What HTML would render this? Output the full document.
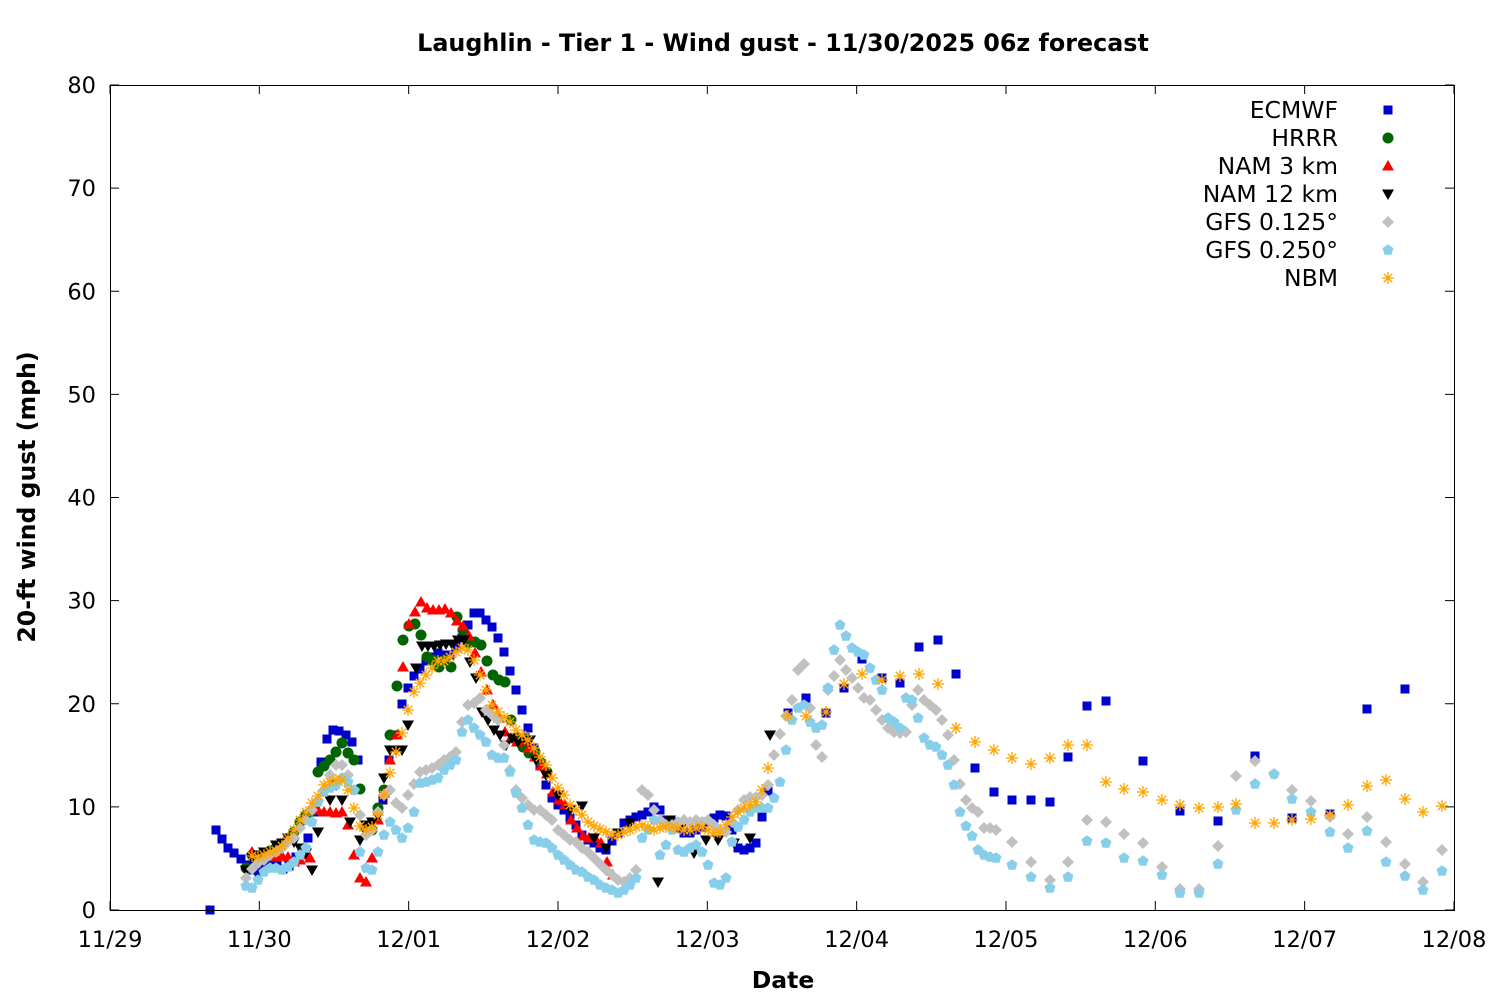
<!DOCTYPE html>
<html><head><meta charset="utf-8"><style>
html,body{margin:0;padding:0;background:#fff;}
svg text{font-family:"DejaVu Sans","Liberation Sans",sans-serif;}
</style></head><body>
<svg id="s" width="1500" height="1000" xmlns="http://www.w3.org/2000/svg">
<rect width="1500" height="1000" fill="#fff"/>
<text x="783" y="51" text-anchor="middle" font-size="23.8" font-weight="bold">Laughlin - Tier 1 - Wind gust - 11/30/2025 06z forecast</text>
<text x="783" y="988" text-anchor="middle" font-size="23.5" font-weight="bold">Date</text>
<text transform="translate(35,497) rotate(-90)" text-anchor="middle" font-size="23.6" font-weight="bold">20-ft wind gust (mph)</text>
<g id="ax"></g>
<g id="pts"></g>
<rect x="110.5" y="85.5" width="1344" height="825" fill="none" stroke="#000" stroke-width="1"/>
<g id="leg" font-size="23.5"></g>
</svg>
<script>
var NS="http://www.w3.org/2000/svg";
function el(p,t,a,txt){var e=document.createElementNS(NS,t);for(var k in a)e.setAttribute(k,a[k]);if(txt!==undefined)e.textContent=txt;p.appendChild(e);return e;}
var ax=document.getElementById('ax');
for(var i=0;i<=8;i++){var y=910-i*103.125;
 el(ax,'line',{x1:110,y1:y,x2:119,y2:y,stroke:'#000'});el(ax,'line',{x1:1454,y1:y,x2:1445,y2:y,stroke:'#000'});
 el(ax,'text',{x:96,y:y+8,'text-anchor':'end','font-size':'22.5'},String(i*10));}
var dl=['11/29','11/30','12/01','12/02','12/03','12/04','12/05','12/06','12/07','12/08'];
for(var i=0;i<=9;i++){var x=110+i*149.33;
 el(ax,'line',{x1:x,y1:910,x2:x,y2:901,stroke:'#000'});el(ax,'line',{x1:x,y1:85,x2:x,y2:94,stroke:'#000'});
 el(ax,'text',{x:x,y:947,'text-anchor':'middle','font-size':'22.5'},dl[i]);}
function P(s){var a=s.split(/[;\s]+/).filter(Boolean);return a.map(function(t){var q=t.split(',');return [+q[0],+q[1]];});}
var g=document.getElementById('pts');
function mk(p,type,x,y){
 if(type=='sq')el(p,'rect',{x:x-4.5,y:y-4.5,width:9,height:9,fill:'#0000cc'});
 else if(type=='ci')el(p,'circle',{cx:x,cy:y,r:5.5,fill:'#006400'});
 else if(type=='tu')el(p,'polygon',{points:(x-6)+','+(y+4.5)+' '+(x+6)+','+(y+4.5)+' '+x+','+(y-6),fill:'#ff0000'});
 else if(type=='td')el(p,'polygon',{points:(x-6)+','+(y-4.5)+' '+(x+6)+','+(y-4.5)+' '+x+','+(y+6),fill:'#000'});
 else if(type=='di')el(p,'polygon',{points:x+','+(y-6)+' '+(x+6)+','+y+' '+x+','+(y+6)+' '+(x-6)+','+y,fill:'#c0c0c0'});
 else if(type=='pe'){var s='';for(var k=0;k<5;k++){var an=-Math.PI/2+k*2*Math.PI/5;s+=(x+5.8*Math.cos(an))+','+(y+5.8*Math.sin(an))+' ';}el(p,'polygon',{points:s,fill:'#87ceeb'});}
 else if(type=='as'){var d='';for(var k=0;k<4;k++){var an=k*Math.PI/4;var c=6*Math.cos(an),s2=6*Math.sin(an);d+='M'+(x-c)+' '+(y-s2)+'L'+(x+c)+' '+(y+s2);}el(p,'path',{d:d,stroke:'#ffa500','stroke-width':1.3,fill:'none'});}
}
var S=[
['sq','ECMWF',"210,910;216,830;222,839;228,848;234,853;241,859;247,865;253,870;259,872;265,866;271,862;277,864;283,869;289,866;296,857;302,849;308,838;314,812;321,762;327,739;333,730;339,731;346,735;352,742;358,760;383,800;389,760;395,735;402,704;408,688;414,676;420,669;426,661;432,657;438,653;444,655;450,655;456,647;462,638;468,625;474,613;480,613;486,620;492,627;498,638;504,652;510,671;516,690;522,710;528,728;534,748;540,765;546,785;552,798;558,805;564,810;570,818;576,825;582,835;588,840;594,843;600,848;606,850;612,841;618,833;624,823;630,820;636,817;642,815;648,812;654,807;660,810;666,820;672,822;678,828;684,833;690,833;696,830;702,827;708,822;714,818;720,815;726,816;732,830;738,848;744,850;750,848;756,843;762,817;768,791;788,713;806,698;826,713;844,688;862,659;882,678;900,683;919,647;938,640;956,674;975,768;994,792;1012,800;1031,800;1050,802;1068,757;1087,706;1106,701;1143,761;1180,811;1218,821;1255,756;1292,818;1330,814;1367,709;1405,689"],
['ci','HRRR',"246,868;252,855;258,857;264,855;270,851;276,848;282,845;288,840;294,832;300,822;306,815;312,811;318,772;324,766;330,760;336,752;342,743;348,753;354,760;360,789;366,828;372,830;378,808;384,790;390,735;397,686;403,640;409,626;415,624;421,635;427,657;433,660;439,667;445,660;451,667;457,617;463,630;469,643;475,642;481,645;487,661;493,675;499,680;505,682;511,720;517,738;523,747;529,753;535,752;541,763;547,772"],
['tu','NAM 3 km',"252,852;258,857;264,855;270,856;276,857;282,856;288,857;294,862;300,860;306,855;310,858;318,810;324,812;330,812;336,813;342,812;348,825;354,855;360,878;366,882;372,858;378,820;384,793;390,760;397,735;403,667;409,624;415,612;421,602;427,608;433,610;439,610;445,609;451,613;457,621;463,626;469,636;475,653;481,672;487,690;493,705;499,718;505,732;511,738;517,742;523,740;529,748;535,757;541,766;547,774;553,792;559,800;565,805;571,820;577,828;583,836;589,838;595,838;601,843;607,862;613,875"],
['td','NAM 12 km',"246,870;252,858;258,855;264,852;270,853;276,845;282,843;288,838;294,842;300,848;306,853;312,870;318,832;330,800;336,785;342,800;350,822;360,840;366,825;372,822;378,816;384,778;390,750;396,750;402,750;408,725;416,668;422,646;428,646;434,646;440,645;446,644;452,644;458,640;464,640;470,662;476,678;482,712;488,720;494,730;500,735;506,745;512,738;518,742;524,738;530,740;536,760;546,775;558,795;570,810;582,806;594,838;606,848;618,833;630,823;658,882;670,820;682,826;694,853;706,840;718,840;734,843;750,838;770,735"],
['di','GFS 0.125°',"246,878;252,869;258,863;264,860;270,855;276,852;282,848;288,842;294,838;300,828;306,820;312,810;318,800;324,790;330,775;336,765;342,765;348,775;354,790;360,815;366,835;372,830;378,812;384,795;390,790;396,803;402,808;408,795;414,784;420,772;426,770;432,768;438,765;444,760;450,757;456,752;462,722;468,705;474,703;480,698;486,710;492,715;498,720;504,745;510,770;516,790;522,798;528,805;534,810;540,810;546,815;552,820;558,830;564,835;570,840;576,842;582,848;588,852;594,858;600,864;606,870;612,875;618,880;624,882;630,878;636,870;642,790;648,795;654,810;660,820;666,825;672,825;678,822;684,820;690,822;696,820;702,822;708,820;714,825;720,830;726,832;732,822;738,810;744,800;750,797;756,797;762,795;768,785;774,755;780,734;786,716;792,700;798,670;804,664;810,708;816,745;822,757;828,690;834,676;840,660;846,670;852,678;858,688;864,698;870,700;876,710;882,720;888,728;894,732;900,733;906,732;912,705;918,690;924,700;930,705;936,710;942,720;948,735;954,760;960,784;966,800;972,808;978,812;984,828;990,828;996,830;1012,842;1031,862;1050,880;1068,862;1087,820;1106,822;1124,834;1143,843;1162,867;1180,889;1199,889;1218,846;1236,776;1255,761;1274,774;1292,790;1311,801;1330,817;1348,834;1367,817;1386,842;1405,864;1423,882;1442,850"],
['pe','GFS 0.250°',"246,886;252,888;258,880;264,872;270,868;276,868;282,870;288,867;294,862;300,855;306,848;312,822;318,802;324,792;330,788;336,785;342,778;348,782;354,790;360,852;366,868;372,870;378,852;384,835;390,822;396,830;402,838;408,828;414,812;420,783;426,782;432,780;438,778;444,770;450,765;456,760;462,732;468,720;474,728;480,735;486,742;492,755;498,758;504,758;510,772;516,793;522,808;528,825;534,840;540,842;546,843;552,848;558,855;564,860;570,865;576,870;582,872;588,877;594,880;600,885;606,888;612,890;618,893;624,890;630,885;636,878;642,838;648,830;654,820;660,855;666,845;672,830;678,850;684,852;690,848;696,845;702,852;708,865;714,883;720,885;726,878;732,842;738,827;744,820;750,812;756,808;762,808;768,808;774,798;780,782;786,750;792,720;798,708;804,705;810,722;816,728;822,725;828,688;834,650;840,625;846,636;852,648;858,652;864,655;870,668;876,680;882,690;888,718;894,722;900,728;906,698;912,700;918,718;924,738;930,745;936,747;942,755;948,765;954,785;960,812;966,826;972,836;978,850;984,855;990,857;996,858;1012,865;1031,877;1050,888;1068,877;1087,841;1106,843;1124,858;1143,861;1162,875;1180,893;1199,893;1218,864;1236,810;1255,784;1274,774;1292,799;1311,812;1330,832;1348,848;1367,831;1386,862;1405,876;1423,890;1442,871"],
['as','NBM',"252,856;258,857;264,855;270,852;276,851;282,846;288,838;294,830;300,820;306,812;312,803;318,796;324,785;330,782;336,780;342,780;348,790;354,808;360,826;366,830;372,827;378,815;384,795;390,773;396,752;402,733;408,710;414,692;420,683;426,675;432,668;438,661;444,661;450,657;456,652;462,648;468,650;474,660;480,675;486,690;492,705;498,712;504,717;510,722;516,730;522,735;528,740;534,748;540,757;546,765;552,778;558,788;564,795;570,805;576,810;582,815;588,822;594,826;600,829;606,832;612,835;618,835;624,832;630,830;636,827;642,825;648,827;654,830;660,828;666,827;672,827;678,828;684,830;690,830;696,828;702,827;708,830;714,833;720,832;726,825;732,817;738,812;744,808;750,805;756,802;762,790;768,768;788,716;806,716;826,712;844,684;862,674;882,680;900,676;919,674;938,684;956,728;975,742;994,750;1012,758;1031,764;1050,758;1068,745;1087,745;1106,782;1124,789;1143,792;1162,800;1180,805;1199,808;1218,807;1236,804;1255,823;1274,823;1292,820;1311,819;1330,815;1348,805;1367,786;1386,780;1405,799;1423,812;1442,806"]
];
var lg=document.getElementById('leg');
S.forEach(function(s,i){P(s[2]).forEach(function(p){mk(g,s[0],p[0],p[1]);});
 var y=110+i*28;el(lg,'text',{x:1338,y:y+8,'text-anchor':'end'},s[1]);mk(lg,s[0],1388,y);});
</script>
</body></html>
